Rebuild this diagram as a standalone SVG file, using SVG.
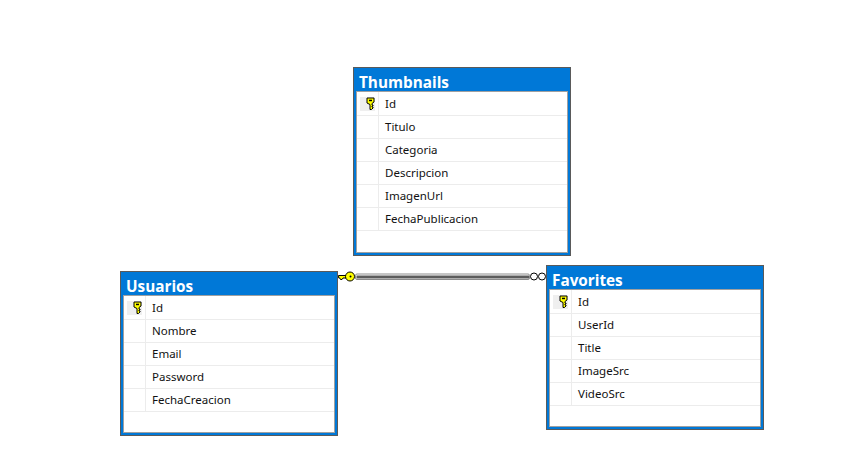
<svg xmlns="http://www.w3.org/2000/svg" width="862" height="471" viewBox="0 0 862 471">
<style>
.frame{fill:#0078d7;stroke:#5a5a5a;stroke-width:1}
.body{fill:#fff;stroke:#a0a0a0;stroke-width:1}
.sep{stroke:#ececec;stroke-width:1;fill:none}
.selbox{fill:#efefef}
.title{font-family:"Open Sans","Noto Sans",sans-serif;font-size:15.3px;font-weight:700;fill:#fff}
.col{font-family:"Noto Sans","Open Sans",sans-serif;font-size:11.5px;fill:#111}
</style>
<defs>
<g id="key">
<path d="M-3.500-5.500h7v4l-2 1.500v1.500h1v1h-1v1h1v1l-1.500 1.500h-1.500v-5l-3-1.500z" fill="#ffff00" stroke="#000" stroke-width="1"/>
<rect x="-1.500" y="-3.800" width="3" height="1.500" fill="#000"/>
</g>
</defs>
<rect width="862" height="471" fill="#fff"/>
<g id="connectors">
<rect x="355.500" y="274" width="174" height="5.500" rx="1.500" fill="#fff" stroke="#8c8c8c" stroke-width="1"/>
<path d="M356.500 277H529" fill="none" stroke="#5c5c5c" stroke-width="3.200"/>
<path d="M338.500 275.500H346v2.500h-3l-1 1.500h-1.500l-.8-1.500h-1z" fill="#ffff00" stroke="#000" stroke-width="1"/>
<circle cx="350" cy="276.500" r="4.500" fill="#ffff00" stroke="#000" stroke-width="1"/>
<circle cx="350.500" cy="276.500" r="1" fill="#000"/>
<circle cx="534" cy="276.500" r="3.500" fill="#fff" stroke="#000" stroke-width="1"/>
<circle cx="542" cy="276.500" r="3.500" fill="#fff" stroke="#000" stroke-width="1"/>
</g>
<g id="thumbnails">
<rect class="frame" x="353.500" y="67.500" width="217" height="188"/>
<rect class="body" x="356.500" y="91.500" width="211" height="161"/>
<path class="sep" d="M357 115.500H567M357 138.500H567M357 161.500H567M357 184.500H567M357 207.500H567M357 230.500H567M378.500 92V230"/>
<rect class="selbox" x="360" y="97" width="15" height="14"/>
<use href="#key" x="370.500" y="103.500"/>
<text class="title" x="359" y="88">Thumbnails</text>
<text class="col" x="385" y="108">Id</text>
<text class="col" x="385" y="131">Titulo</text>
<text class="col" x="385" y="154">Categoria</text>
<text class="col" x="385" y="177">Descripcion</text>
<text class="col" x="385" y="200">ImagenUrl</text>
<text class="col" x="385" y="223">FechaPublicacion</text>
</g>
<g id="usuarios">
<rect class="frame" x="120.500" y="271.500" width="217" height="164"/>
<rect class="body" x="123.500" y="295.500" width="211" height="137"/>
<path class="sep" d="M124 319.500H334M124 342.500H334M124 365.500H334M124 388.500H334M124 411.500H334M145.500 296V411"/>
<rect class="selbox" x="127" y="301" width="15" height="14"/>
<use href="#key" x="137.500" y="307.500"/>
<text class="title" x="126" y="292">Usuarios</text>
<text class="col" x="152" y="312">Id</text>
<text class="col" x="152" y="335">Nombre</text>
<text class="col" x="152" y="358">Email</text>
<text class="col" x="152" y="381">Password</text>
<text class="col" x="152" y="404">FechaCreacion</text>
</g>
<g id="favorites">
<rect class="frame" x="546.500" y="265.500" width="217" height="164"/>
<rect class="body" x="549.500" y="289.500" width="211" height="137"/>
<path class="sep" d="M550 313.500H760M550 336.500H760M550 359.500H760M550 382.500H760M550 405.500H760M571.500 290V405"/>
<rect class="selbox" x="553" y="295" width="15" height="14"/>
<use href="#key" x="563.500" y="301.500"/>
<text class="title" x="552" y="286">Favorites</text>
<text class="col" x="578" y="306">Id</text>
<text class="col" x="578" y="329">UserId</text>
<text class="col" x="578" y="352">Title</text>
<text class="col" x="578" y="375">ImageSrc</text>
<text class="col" x="578" y="398">VideoSrc</text>
</g>
</svg>
